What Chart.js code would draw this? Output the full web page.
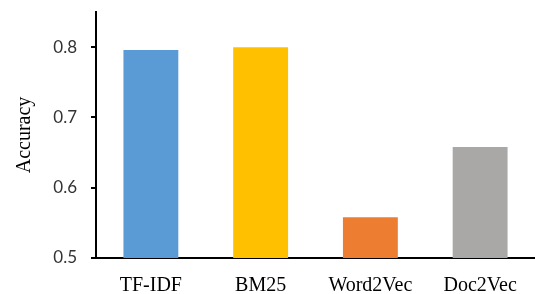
<!DOCTYPE html>
<html>
<head>
<meta charset="utf-8">
<script src="https://cdn.jsdelivr.net/npm/chart.js@4/dist/chart.umd.min.js"></script>
<style>
  html, body { margin: 0; padding: 0; background: #fff; }
  #wrap { width: 535px; height: 294px; position: relative; }
</style>
</head>
<body>
<div id="wrap"><canvas id="c"></canvas></div>
<script>
const categories = ["TF-IDF", "BM25", "Word2Vec", "Doc2Vec"];
const accuracy = [0.796, 0.800, 0.558, 0.658];
const barColors = ["#5B9BD5", "#FFC000", "#ED7D31", "#A9A8A7"];
const yTitle = "Accuracy";

new Chart(document.getElementById("c"), {
  type: "bar",
  data: {
    labels: categories,
    datasets: [{
      data: accuracy,
      backgroundColor: barColors,
      borderWidth: 0,
      barPercentage: 0.5,
      categoryPercentage: 1.0
    }]
  },
  options: {
    responsive: true,
    maintainAspectRatio: false,
    animation: false,
    layout: { padding: { top: 12, right: 0, left: 0, bottom: 0 } },
    plugins: { legend: { display: false }, tooltip: { enabled: false } },
    scales: {
      x: {
        border: { color: "#000", width: 2 },
        grid: { display: false, drawTicks: false },
        ticks: {
          color: "#000",
          padding: 16,
          font: { family: "'Liberation Serif', 'Times New Roman', serif", size: 20 }
        },
        afterFit: (s) => { s.height = 36; s.paddingLeft = 0; s.paddingRight = 0; }
      },
      y: {
        min: 0.5,
        max: 0.85,
        border: { color: "#000", width: 2 },
        grid: { drawOnChartArea: false, drawTicks: true, tickLength: 5, color: "#000", lineWidth: 2 },
        ticks: {
          stepSize: 0.1,
          includeBounds: false,
          color: "#333",
          padding: 14,
          font: { family: "Lato, 'Open Sans', sans-serif", size: 17 }
        },
        title: {
          display: true,
          text: yTitle,
          color: "#000",
          padding: { top: 13, bottom: 0 },
          font: { family: "'Liberation Serif', 'Times New Roman', serif", size: 20, weight: "normal" }
        },
        afterFit: (s) => { s.width = 96; s.paddingTop = 0; s.paddingBottom = 0; }
      }
    }
  }
});
</script>
</body>
</html>
